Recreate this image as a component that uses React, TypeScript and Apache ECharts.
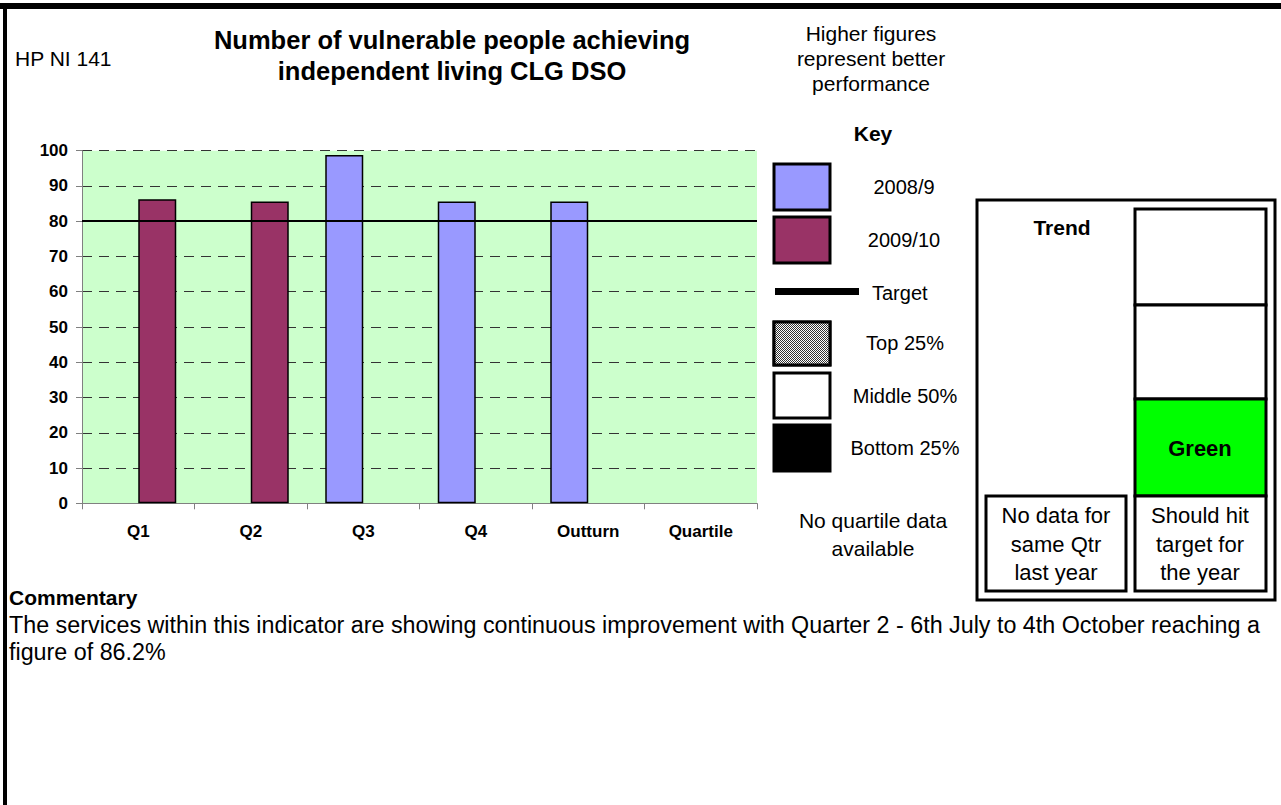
import React, { useEffect, useRef } from "react";
import * as echarts from "echarts";

const categories = ["Q1", "Q2", "Q3", "Q4", "Outturn", "Quartile"];
const values2008 = [null, null, 98.8, 85.6, 85.6, null];
const values2009 = [86.2, 85.6, null, null, null, null];
const targetValue = 80;
const yTicks = { min: 0, max: 100, interval: 10 };

const FONT = "'Liberation Sans', Arial, sans-serif";

function txt(x: number, y: number, text: string, size: number, bold = false, align = "center", fill = "#000") {
  return {
    type: "text",
    x,
    y,
    silent: true,
    style: {
      text,
      font: `${bold ? "bold " : ""}${size}px ${FONT}`,
      fill,
      align,
      textAlign: align,
      verticalAlign: "middle",
      textVerticalAlign: "middle",
    },
  };
}

function box(x: number, y: number, w: number, h: number, fill: any, lw = 3) {
  return {
    type: "rect",
    silent: true,
    shape: { x, y, width: w, height: h },
    style: { fill, stroke: "#000", lineWidth: lw },
  };
}

function makePattern(): string {
  const c = document.createElement("canvas");
  c.width = 2;
  c.height = 2;
  const ctx = c.getContext("2d");
  if (ctx) {
    ctx.fillStyle = "#ffffff";
    ctx.fillRect(0, 0, 2, 2);
    ctx.fillStyle = "#333333";
    ctx.fillRect(0, 0, 1, 1);
    ctx.fillRect(1, 1, 1, 1);
  }
  return c.toDataURL();
}

export default function App() {
  const ref = useRef<HTMLDivElement>(null);

  useEffect(() => {
    if (!ref.current) return;
    const chart = echarts.init(ref.current, undefined, { renderer: "svg" });
    const patternUrl = makePattern();

    const graphics: any[] = [
      // page frame
      { type: "rect", silent: true, shape: { x: 0, y: 3, width: 1281, height: 6 }, style: { fill: "#000" } },
      { type: "rect", silent: true, shape: { x: 3, y: 3, width: 4, height: 802 }, style: { fill: "#000" } },
      // header
      txt(15, 58, "HP NI 141", 21, false, "left"),
      txt(452, 40, "Number of vulnerable people achieving", 25.5, true),
      txt(452, 71, "independent living CLG DSO", 25.5, true),
      txt(871, 33, "Higher figures", 21),
      txt(871, 58, "represent better", 21),
      txt(871, 83, "performance", 21),
      // key
      txt(873, 133, "Key", 21, true),
      box(774, 164, 56, 46, "#9999FF"),
      txt(904, 187, "2008/9", 20),
      box(774, 217, 56, 46, "#993366"),
      txt(904, 240, "2009/10", 20),
      { type: "rect", silent: true, shape: { x: 775, y: 288, width: 84, height: 7 }, style: { fill: "#000" } },
      txt(872, 293, "Target", 20, false, "left"),
      box(774, 322, 56, 43, "#999999"),
      {
        type: "rect",
        silent: true,
        shape: { x: 774, y: 322, width: 56, height: 43 },
        style: { fill: { image: patternUrl, repeat: "repeat" }, stroke: "#000", lineWidth: 3 },
      },
      txt(905, 343, "Top 25%", 20),
      box(774, 373, 56, 45, "#ffffff"),
      txt(905, 396, "Middle 50%", 20),
      box(774, 425, 56, 46, "#000000"),
      txt(905, 448, "Bottom 25%", 20),
      txt(873, 520, "No quartile data", 21),
      txt(873, 548, "available", 21),
      // trend panel
      box(977, 200, 298, 400, "#ffffff"),
      txt(1062, 227, "Trend", 21, true),
      box(1135, 209, 131, 96, "#ffffff"),
      box(1135, 305, 131, 94, "#ffffff"),
      box(1135, 399, 131, 97, "#00FF00"),
      txt(1200, 448, "Green", 22, true),
      box(1135, 496, 131, 95, "#ffffff"),
      box(986, 496, 140, 95, "#ffffff"),
      txt(1056, 515, "No data for", 22),
      txt(1056, 544, "same Qtr", 22),
      txt(1056, 572, "last year", 22),
      txt(1200, 515, "Should hit", 22),
      txt(1200, 544, "target for", 22),
      txt(1200, 572, "the year", 22),
      // commentary
      txt(9, 597, "Commentary", 21, true, "left"),
      txt(9, 625, "The services within this indicator are showing continuous improvement with Quarter 2 - 6th July to 4th October reaching a", 23.3, false, "left"),
      txt(9, 652, "figure of 86.2%", 23.3, false, "left"),
    ];

    chart.setOption({
      animation: false,
      backgroundColor: "#ffffff",
      textStyle: { fontFamily: FONT },
      grid: {
        left: 82,
        right: 1281 - 757,
        top: 150.7,
        bottom: 805 - 503.3,
        show: true,
        backgroundColor: "#CCFFCC",
        borderWidth: 0,
      },
      xAxis: {
        type: "category",
        data: categories,
        axisLine: { show: true, lineStyle: { color: "#808080", width: 1 } },
        axisTick: { show: true, length: 6, lineStyle: { color: "#808080" } },
        axisLabel: { fontWeight: "bold", fontSize: 17, color: "#000", margin: 20, fontFamily: FONT, interval: 0 },
        splitLine: { show: false },
      },
      yAxis: {
        type: "value",
        min: yTicks.min,
        max: yTicks.max,
        interval: yTicks.interval,
        axisLine: { show: true, lineStyle: { color: "#808080", width: 1 } },
        axisTick: { show: true, length: 6, lineStyle: { color: "#808080" } },
        axisLabel: { fontWeight: "bold", fontSize: 17, color: "#000", margin: 14, fontFamily: FONT },
        splitLine: { show: true, lineStyle: { color: "#333", width: 1, type: [10, 7] } },
      },
      series: [
        {
          name: "2008/9",
          type: "bar",
          data: values2008,
          barWidth: 38,
          barGap: "0%",
          itemStyle: { color: "#9999FF", borderColor: "#000", borderWidth: 1.5 },
        },
        {
          name: "2009/10",
          type: "bar",
          data: values2009,
          barWidth: 38,
          barGap: "0%",
          itemStyle: { color: "#993366", borderColor: "#000", borderWidth: 1.5 },
          markLine: {
            silent: true,
            symbol: ["none", "none"],
            label: { show: false },
            lineStyle: { color: "#000", width: 2, type: "solid" },
            data: [{ yAxis: targetValue }],
          },
        },
      ],
      graphic: graphics,
    });

    return () => chart.dispose();
  }, []);

  return (
    <div
      ref={ref}
      style={{ position: "fixed", left: 0, top: 0, width: 1281, height: 805, background: "#fff" }}
    />
  );
}
